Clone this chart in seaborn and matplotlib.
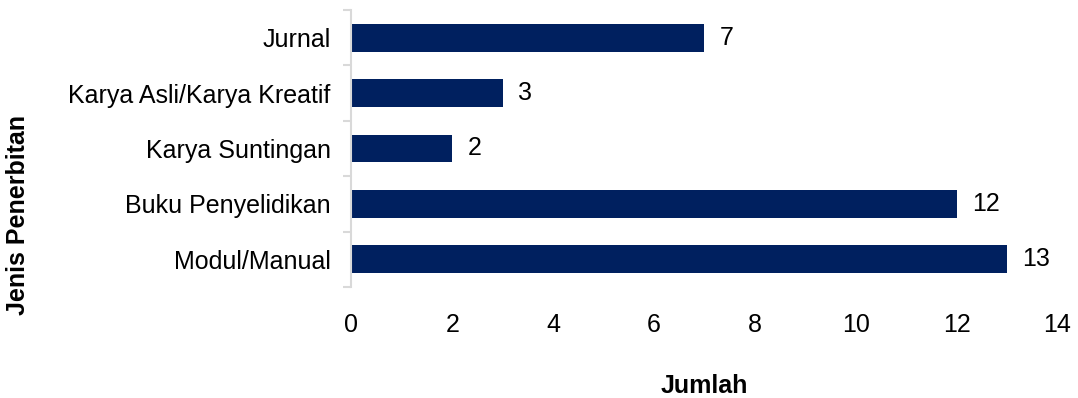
import seaborn as sns
import matplotlib.pyplot as plt
import numpy as np
import pandas as pd

categories = ["Jurnal", "Karya Asli/Karya Kreatif", "Karya Suntingan", "Buku Penyelidikan", "Modul/Manual"]
values = [7, 3, 2, 12, 13]
xticks = [0, 2, 4, 6, 8, 10, 12, 14]

sns.set_style("white")
plt.rcParams['font.family'] = ['Liberation Sans', 'DejaVu Sans']
plt.rcParams['text.color'] = 'black'
plt.rcParams['axes.labelcolor'] = 'black'
plt.rcParams['xtick.color'] = 'black'
plt.rcParams['ytick.color'] = 'black'

df = pd.DataFrame({"Jenis Penerbitan": categories, "Jumlah": values})

fig = plt.figure(figsize=(10.78, 3.98), dpi=100)
ax = fig.add_axes([0.326, 0.279, 0.655, 0.696])
sns.barplot(data=df, x="Jumlah", y="Jenis Penerbitan", orient="h",
            color="#00205f", saturation=1, width=0.5, linewidth=0, ax=ax)

for i, v in enumerate(values):
    ax.text(v + 0.3, i, str(v), va="center", ha="left", fontsize=18)

ax.set_xlim(0, 14)
ax.set_ylim(len(categories) - 0.5, -0.5)
ax.set_xticks(xticks)
ax.tick_params(axis="x", length=0, pad=19, labelsize=18)
ax.tick_params(axis="y", which="major", left=False, length=0, pad=15, labelsize=18)
ax.set_yticks(np.arange(-0.5, len(categories)), minor=True)
ax.tick_params(axis="y", which="minor", left=True, length=6, color="#d9d9d9", width=1.5)

for s in ["top", "right", "bottom"]:
    ax.spines[s].set_visible(False)
ax.spines["left"].set_color("#d9d9d9")
ax.spines["left"].set_linewidth(1.5)

ax.set_xlabel("Jumlah", fontsize=18, fontweight="bold")
ax.xaxis.set_label_coords(0.5, -0.315)
ax.set_ylabel("Jenis Penerbitan", fontsize=18, fontweight="bold")
ax.yaxis.set_label_coords(-0.455, 0.26)

plt.savefig("out.png", dpi=100)
plt.close()
